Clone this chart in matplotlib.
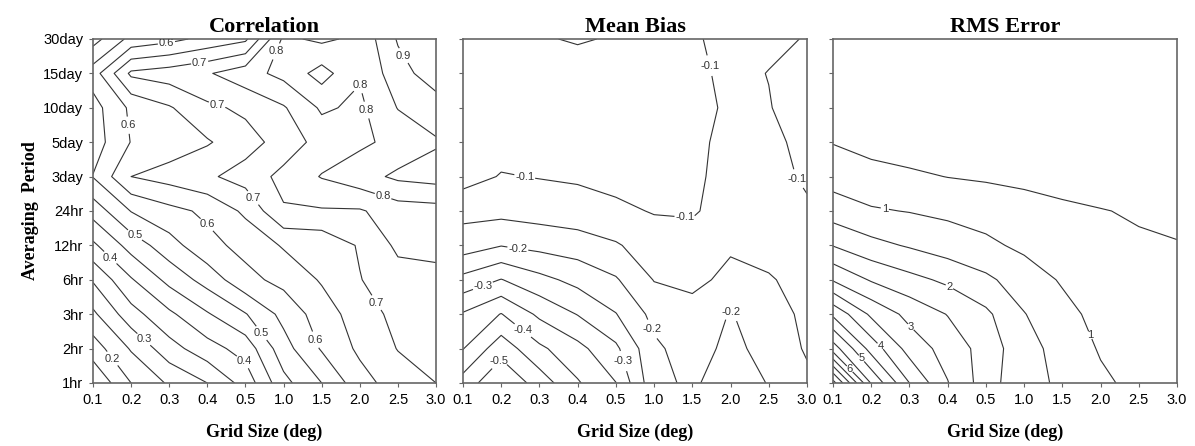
import numpy as np
import matplotlib
matplotlib.use('Agg')
import matplotlib.pyplot as plt

plt.rcParams['font.family'] = 'Liberation Sans'

grid_sizes = ['0.1', '0.2', '0.3', '0.4', '0.5', '1.0', '1.5', '2.0', '2.5', '3.0']
periods = ['1hr', '2hr', '3hr', '6hr', '12hr', '24hr', '3day', '5day', '10day', '15day', '30day']

# rows = averaging period (1hr .. 30day), columns = grid size (0.1 .. 3.0)
corr = [
    [0.105, 0.200, 0.257, 0.300, 0.370, 0.485, 0.550, 0.630, 0.675, 0.700],
    [0.175, 0.255, 0.330, 0.380, 0.420, 0.530, 0.605, 0.660, 0.702, 0.710],
    [0.240, 0.330, 0.390, 0.445, 0.497, 0.565, 0.625, 0.675, 0.715, 0.720],
    [0.305, 0.395, 0.465, 0.520, 0.585, 0.615, 0.655, 0.698, 0.730, 0.735],
    [0.390, 0.470, 0.530, 0.585, 0.615, 0.655, 0.665, 0.705, 0.760, 0.765],
    [0.470, 0.552, 0.585, 0.610, 0.660, 0.745, 0.745, 0.745, 0.775, 0.780],
    [0.552, 0.650, 0.670, 0.692, 0.720, 0.765, 0.803, 0.830, 0.860, 0.870],
    [0.525, 0.602, 0.622, 0.645, 0.680, 0.720, 0.770, 0.790, 0.815, 0.845],
    [0.530, 0.610, 0.645, 0.690, 0.710, 0.745, 0.8075, 0.790, 0.852, 0.876],
    [0.575, 0.710, 0.725, 0.745, 0.780, 0.815, 0.870, 0.805, 0.880, 0.927],
    [0.480, 0.565, 0.585, 0.615, 0.640, 0.810, 0.790, 0.812, 0.905, 0.940],
]

bias = [
    [-0.470, -0.545, -0.478, -0.405, -0.351, -0.215, -0.190, -0.235, -0.197, -0.160],
    [-0.398, -0.480, -0.410, -0.365, -0.310, -0.210, -0.175, -0.215, -0.180, -0.145],
    [-0.355, -0.402, -0.340, -0.298, -0.252, -0.185, -0.165, -0.203, -0.170, -0.140],
    [-0.265, -0.302, -0.265, -0.235, -0.205, -0.148, -0.140, -0.160, -0.155, -0.130],
    [-0.175, -0.198, -0.185, -0.175, -0.155, -0.125, -0.120, -0.145, -0.130, -0.120],
    [-0.135, -0.135, -0.128, -0.120, -0.110, -0.097, -0.095, -0.120, -0.115, -0.105],
    [-0.080, -0.103, -0.098, -0.094, -0.085, -0.080, -0.090, -0.118, -0.112, -0.095],
    [-0.070, -0.080, -0.080, -0.078, -0.075, -0.072, -0.085, -0.118, -0.113, -0.085],
    [-0.060, -0.065, -0.065, -0.065, -0.068, -0.075, -0.090, -0.105, -0.102, -0.080],
    [-0.055, -0.060, -0.060, -0.060, -0.065, -0.075, -0.090, -0.110, -0.099, -0.080],
    [-0.055, -0.054, -0.052, -0.048, -0.052, -0.070, -0.096, -0.110, -0.108, -0.098],
]

rms = [
    [8.20, 5.45, 4.00, 3.02, 2.25, 1.60, 1.45, 1.10, 0.85, 0.70],
    [5.75, 4.30, 3.30, 2.80, 2.30, 1.65, 1.35, 0.95, 0.80, 0.65],
    [4.40, 3.40, 2.85, 2.48, 2.10, 1.52, 1.15, 0.85, 0.70, 0.62],
    [2.95, 2.45, 2.15, 1.90, 1.60, 1.25, 0.95, 0.75, 0.60, 0.55],
    [1.98, 1.65, 1.45, 1.25, 1.10, 0.90, 0.75, 0.65, 0.56, 0.52],
    [1.25, 1.05, 0.98, 0.90, 0.80, 0.70, 0.60, 0.52, 0.45, 0.40],
    [0.80, 0.68, 0.58, 0.49, 0.44, 0.38, 0.30, 0.26, 0.22, 0.20],
    [0.48, 0.32, 0.26, 0.22, 0.20, 0.18, 0.16, 0.14, 0.13, 0.12],
    [0.30, 0.24, 0.20, 0.18, 0.16, 0.15, 0.14, 0.12, 0.11, 0.10],
    [0.20, 0.18, 0.16, 0.15, 0.14, 0.13, 0.12, 0.11, 0.10, 0.10],
    [0.15, 0.14, 0.13, 0.12, 0.12, 0.11, 0.10, 0.10, 0.09, 0.09],
]

LINE_COLOR = '#333333'
SPINE_COLOR = '#666666'
SERIF = 'Liberation Serif'


def draw_panel(ax, z, levels, fmt, label_pts, title, step):
    x = np.arange(len(grid_sizes))
    y = np.arange(len(periods))
    z = np.array(z)
    is_major = np.array([abs(lv / step - round(lv / step)) < 1e-6 for lv in levels])
    minor = levels[~is_major]
    major = levels[is_major]
    if len(minor):
        ax.contour(x, y, z, levels=minor, colors=LINE_COLOR, linewidths=0.8,
                   linestyles='solid')
    cs = ax.contour(x, y, z, levels=major, colors=LINE_COLOR, linewidths=0.8,
                    linestyles='solid')
    ax.clabel(cs, fmt=fmt, fontsize=8, inline=True, inline_spacing=1,
              manual=label_pts)
    # labels in the reference stay upright
    for t in cs.labelTexts:
        t.set_rotation(0)

    ax.set_xlim(0, len(grid_sizes) - 1)
    ax.set_ylim(0, len(periods) - 1)
    ax.set_xticks(x)
    ax.set_xticklabels(grid_sizes, fontsize=10.5)
    ax.set_yticks(y)
    ax.tick_params(direction='out', length=3, width=0.8, color=SPINE_COLOR, pad=4)
    for s in ax.spines.values():
        s.set_color(SPINE_COLOR)
        s.set_linewidth(1.2)
    ax.set_title(title, fontsize=16, fontweight='bold', family=SERIF, pad=5)
    ax.set_xlabel('Grid Size (deg)', fontsize=13, fontweight='bold',
                  family=SERIF, labelpad=12)
    return cs


fig = plt.figure(figsize=(11.95, 4.46), dpi=100)
ax1 = fig.add_axes([0.0778, 0.1413, 0.2871, 0.7713])
ax2 = fig.add_axes([0.3874, 0.1413, 0.2879, 0.7713])
ax3 = fig.add_axes([0.6971, 0.1413, 0.2879, 0.7713])

corr_levels = np.round(np.arange(0.10, 0.951, 0.05), 2)
corr_pts = [(0.45, 0.66), (1.28, 1.2), (0.44, 3.63), (4.0, 0.7), (1.07, 4.25),
            (4.6, 1.6), (3.19, 4.85), (6.05, 1.35), (7.53, 2.4), (4.43, 5.58),
            (0.73, 7.47), (3.2, 7.9), (1.93, 9.87), (2.8, 9.3), (5.0, 9.55),
            (7.0, 9.2), (8.2, 9.55), (7.23, 7.95), (7.6, 5.4)]
draw_panel(ax1, corr, corr_levels, '%.1f', corr_pts, 'Correlation', 0.1)
ax1.set_yticklabels(periods, fontsize=10.5)
ax1.set_ylabel('Averaging  Period', fontsize=13, fontweight='bold',
               family=SERIF, labelpad=3)

bias_levels = np.round(np.arange(-0.60, -0.049, 0.05), 2)
bias_pts = [(6.51, 9.24), (1.62, 6.03), (5.81, 4.83), (8.78, 5.95), (1.45, 4.01),
            (0.53, 2.8), (1.54, 1.49), (0.97, 0.62), (4.15, 0.62), (4.9, 1.54),
            (7.05, 2.1)]
draw_panel(ax2, bias, bias_levels, '%.1f', bias_pts, 'Mean Bias', 0.1)
ax2.set_yticklabels([])

rms_levels = np.arange(0.5, 8.01, 0.5)
rms_pts = [(1.36, 5.1), (6.75, 1.4), (3.02, 2.75), (2.06, 1.66), (1.23, 1.06),
           (0.75, 0.72), (0.43, 0.4)]
draw_panel(ax3, rms, rms_levels, '%d', rms_pts, 'RMS Error', 1.0)
ax3.set_yticklabels([])

fig.savefig('out.png', dpi=100)
